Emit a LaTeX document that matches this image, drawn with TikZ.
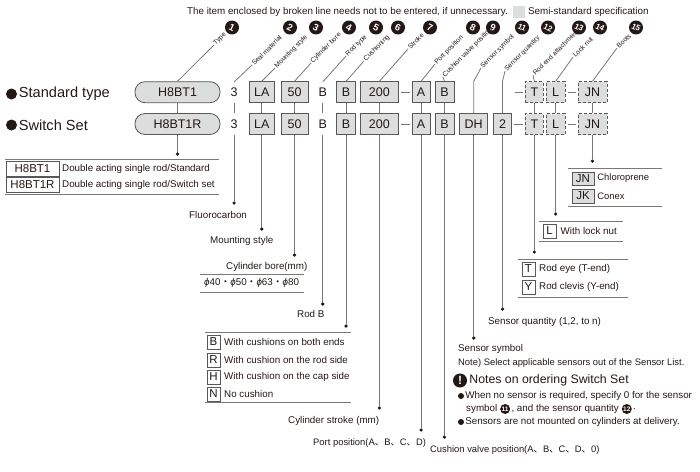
\documentclass[tikz,border=0pt]{standalone}
\usepackage{fontspec}
\usepackage{xcolor}
\setmainfont{Liberation Sans}
\newfontfamily\cjk{Noto Sans CJK JP}
\usetikzlibrary{positioning}
\definecolor{inkblack}{HTML}{231815}
\definecolor{boxgray}{HTML}{DCDDDD}
\definecolor{boxline}{HTML}{595757}
\definecolor{leadgray}{HTML}{7D7676}
\newcommand{\jdot}{{\cjk 、}}
\newcommand{\jmid}{{\cjk ・}}

\begin{document}
\begin{tikzpicture}[
  x=1pt,y=-1pt,
  text=inkblack,
  font=\fontsize{9.8}{11}\selectfont,
  node distance=4pt and 4pt,
  pillbox/.style={draw=boxline,fill=boxgray,rounded corners=10pt,line width=0.8pt,minimum width=85pt,minimum height=21pt,inner sep=0pt,font=\fontsize{12.5}{13}\selectfont},
  partbox/.style={draw=boxline,fill=boxgray,line width=0.8pt,minimum height=21pt,inner sep=0pt,font=\fontsize{12.5}{13}\selectfont},
  optbox/.style={partbox,densely dashed},
  partplain/.style={minimum height=21pt,minimum width=8pt,inner sep=0pt,font=\fontsize{12.5}{13}\selectfont},
  keybox/.style={draw=boxline,line width=0.5pt,minimum height=13.5pt,minimum width=13.5pt,inner sep=0pt,font=\fontsize{11.5}{12}\selectfont},
  graykey/.style={keybox,fill=boxgray,minimum width=22pt},
  note/.style={anchor=west,inner sep=0pt},
  slimnote/.style={note,font=\fontsize{9.4}{11}\selectfont},
  tag/.style={anchor=west,rotate=45,inner sep=1pt,font=\fontsize{6.7}{8}\selectfont},
  badge/.style={circle,fill=inkblack,text=white,inner sep=0pt,minimum size=14pt,rotate=-25,font=\fontsize{9.5}{10}\bfseries\selectfont},
  twobadge/.style={badge,font=\fontsize{8}{9}\bfseries\selectfont},
  tinybadge/.style={circle,fill=inkblack,text=white,inner sep=0pt,minimum size=10pt,font=\fontsize{6.5}{7}\bfseries\selectfont},
  blackdot/.style={circle,fill=inkblack,inner sep=0pt,minimum size=3.6pt},
  bigdot/.style={circle,fill=inkblack,inner sep=0pt,minimum size=11pt},
  smalldot/.style={circle,fill=inkblack,inner sep=0pt,minimum size=6pt},
  leader/.style={draw=leadgray,line width=0.8pt},
  rule/.style={draw=leadgray,line width=0.8pt}
]
\useasboundingbox (0,0) rectangle (700,471);

% top legend
\node[note] (legend) at (187,12) {The item enclosed by broken line needs not to be entered, if unnecessary.};
\node[fill=boxgray,minimum size=11.5pt,inner sep=0pt] (semibox) at (519,12) {};
\node[note,right=3pt of semibox] (semitext) {Semi-standard specification};

% switch set row
\node[pillbox] (typeB) at (177.5,124) {H8BT1R};
\node[partplain,right=9.5pt of typeB] (sealB) {3};
\node[partbox,minimum width=25pt,right=10.5pt of sealB] (mountB) {LA};
\node[partbox,minimum width=27pt,right=6pt of mountB] (boreB) {50};
\node[partplain,right=10pt of boreB] (rodB) {B};
\node[partbox,minimum width=19pt,right=9pt of rodB] (cushB) {B};
\node[partbox,minimum width=38pt,right=4pt of cushB] (strokeB) {200};
\node[partbox,minimum width=18pt,right=13pt of strokeB] (portB) {A};
\node[partbox,minimum width=19pt,right=4pt of portB] (valveB) {B};
\node[partbox,minimum width=28pt,right=5pt of valveB] (symbolB) {DH};
\node[partbox,minimum width=18pt,right=5pt of symbolB] (qtyB) {2};
\node[optbox,minimum width=18pt,right=13pt of qtyB] (rodendB) {T};
\node[optbox,minimum width=19pt,right=2pt of rodendB] (locknutB) {L};
\node[optbox,minimum width=29pt,right=12pt of locknutB] (bootsB) {JN};

% standard row sits above
\node[pillbox,above=10pt of typeB] (typeA) {H8BT1};
\node[partplain,above=10pt of sealB] (sealA) {3};
\node[partbox,minimum width=25pt,above=10pt of mountB] (mountA) {LA};
\node[partbox,minimum width=27pt,above=10pt of boreB] (boreA) {50};
\node[partplain,above=10pt of rodB] (rodA) {B};
\node[partbox,minimum width=19pt,above=10pt of cushB] (cushA) {B};
\node[partbox,minimum width=38pt,above=10pt of strokeB] (strokeA) {200};
\node[partbox,minimum width=18pt,above=10pt of portB] (portA) {A};
\node[partbox,minimum width=19pt,above=10pt of valveB] (valveA) {B};
\node[optbox,minimum width=18pt,above=10pt of rodendB] (rodendA) {T};
\node[optbox,minimum width=19pt,above=10pt of locknutB] (locknutA) {L};
\node[optbox,minimum width=29pt,above=10pt of bootsB] (bootsA) {JN};

% row titles
\node[bigdot] (stdmark) at (11.5,94) {};
\node[note,right=1.5pt of stdmark,font=\fontsize{14.6}{15}\selectfont] (stdtitle) {Standard type};
\node[bigdot] (swmark) at (11.5,125) {};
\node[note,right=1.5pt of swmark,font=\fontsize{14.6}{15}\selectfont] (swtitle) {Switch Set};

% dashes between parts
\coordinate[left=10pt of rodendA] (dashfree);
\foreach \from/\to in {strokeA/portA,strokeB/portB,qtyB/rodendB,locknutA/bootsA,locknutB/bootsB}
  \draw[leader,shorten >=2pt,shorten <=2pt] (\from.east) -- (\to.west);
\draw[leader,shorten >=2pt] (dashfree) -- (rodendA.west);

% links between rows
\foreach \pp in {type,seal,mount,bore,rod,cush,stroke,port,valve,rodend,locknut,boots}
  \draw[leader] (\pp A.south) -- (\pp B.north);

% numbered tags
\foreach \xx/\num in {232/1,290/2,316/3,349/4,376/5,398/6,430/7,473/8,493/9}
  \node[badge] (badge\num) at (\xx,27.5) {\num};
\foreach \xx/\num in {522/11,548/12,579/13,600/14,636/15}
  \node[twobadge] (badge\num) at (\xx,27.5) {\num};

\foreach \src/\xx/\yy/\txt in {typeA/214/45/Type,sealA/252/65/Seal material,mountA/275/68/Mounting style,boreA/311/63/Cylinder bore,rodA/346/56/Rod type,cushA/364/61/Cushioning,strokeA/408/49/Stroke,portA/435/64/Port position,valveA/443/77/Cushion valve position,rodendA/533/75/Rod end attachment,locknutA/573/57/Lock nut,bootsA/617/48/Boots}{
  \node[tag] (tag\src) at (\xx,\yy) {\txt};
  \draw[leader] (\src.north) -- (tag\src.west);
}
\node[tag] (tagsymbol) at (481,68) {Sensor symbol};
\node[tag] (tagqty) at (505,71) {Sensor quantity};
\draw[leader] (symbolB.north) -- (symbolB.north |- valveA.north) -- (tagsymbol.west);
\draw[leader] (qtyB.north) -- (qtyB.north |- valveA.north) -- (tagqty.west);

% leaders down to the lists
\foreach \pp/\yy in {type/154,seal/203,mount/229,bore/255,rod/304,cush/326,stroke/408,port/430,valve/437,symbol/338,qty/309,rodend/252,locknut/214,boots/161}{
  \node[blackdot] (dot\pp) at (\pp B.south |- 0,\yy) {};
  \draw[leader] (\pp B.south) -- (dot\pp);
}

% type list
\node[keybox,minimum width=53pt,minimum height=15pt] (keystd) at (32.5,169) {H8BT1};
\node[keybox,minimum width=53pt,minimum height=15pt] (keysw) at (32.5,185) {H8BT1R};
\node[note] (txtstd) at (62,169) {Double acting single rod/Standard};
\node[note] (txtsw) at (62,185) {Double acting single rod/Switch set};

% plain labels
\node[note] (lblseal) at (189,215) {Fluorocarbon};
\node[note] (lblmount) at (210,241) {Mounting style};
\node[note] (lblbore) at (226,267) {Cylinder bore(mm)};
\node[note] (lblsizes) at (204,283) {{\itshape ϕ}40\jmid{\itshape ϕ}50\jmid{\itshape ϕ}63\jmid{\itshape ϕ}80};
\node[note] (lblrod) at (297,314) {Rod B};
\node[note] (lblstroke) at (288,421) {Cylinder stroke (mm)};
\node[slimnote] (lblport) at (313,443) {Port position(A\jdot B\jdot C\jdot D)};
\node[slimnote] (lblvalve) at (430,450) {Cushion valve position(A\jdot B\jdot C\jdot D\jdot 0)};
\node[note] (lblqty) at (488,322) {Sensor quantity (1,2, to n)};
\node[note] (lblsymbol) at (458,349) {Sensor symbol};
\node[slimnote] (lblnote) at (458,363) {Note) Select applicable sensors out of the Sensor List.};

% cushion list
\foreach \yy/\key/\txt in {342/B/With cushions on both ends,360/R/With cushion on the rod side,377/H/With cushion on the cap side,394/N/No cushion}{
  \node[keybox] (cush\key) at (213.5,\yy) {\key};
  \node[note,right=3.5pt of cush\key] (txt\key) {\txt};
}

% boots list
\node[graykey] (keyJN) at (583,178.5) {JN};
\node[graykey] (keyJK) at (583,196) {JK};
\node[slimnote,right=3pt of keyJN] (txtJN) {Chloroprene};
\node[slimnote,right=3pt of keyJK] (txtJK) {Conex};

% lock nut list
\node[keybox] (keyL) at (549.5,231) {L};
\node[note,right=4pt of keyL] (txtL) {With lock nut};

% rod end list
\node[keybox] (keyT) at (528.5,269) {T};
\node[keybox] (keyY) at (528.5,287) {Y};
\node[note,right=3.5pt of keyT] (txtT) {Rod eye (T-end)};
\node[note,right=3.5pt of keyY] (txtY) {Rod clevis (Y-end)};

% list rules
\foreach \xa/\xb/\yy in {5/219/159,5/219/194,200/304/274,200/304/292,205/351/332,205/351/402,568/662/168,568/662/206,539/623/221,539/623/241,518/628/259,518/628/297}
  \draw[rule] (\xa,\yy) -- (\xb,\yy);

% ordering notes
\node[circle,fill=inkblack,text=white,inner sep=0pt,minimum size=14pt,font=\fontsize{12}{12}\bfseries\selectfont] (warnmark) at (460,380.5) {!};
\node[note,right=2pt of warnmark,font=\fontsize{12.3}{13}\selectfont] (warntitle) {Notes on ordering Switch Set};
\node[smalldot] (markA) at (461,396) {};
\node[note,right=1pt of markA] (noteA) {When no sensor is required, specify 0 for the sensor};
\node[note] (noteB) at (466,409) {symbol};
\node[tinybadge,right=2.5pt of noteB] (inlineA) {11};
\node[note,right=1pt of inlineA] (noteC) {, and the sensor quantity};
\node[tinybadge,right=2.5pt of noteC] (inlineB) {12};
\node[note,right=1pt of inlineB] (noteD) {.};
\node[smalldot] (markB) at (461,422) {};
\node[note,right=1pt of markB] (noteE) {Sensors are not mounted on cylinders at delivery.};
\end{tikzpicture}
\end{document}
